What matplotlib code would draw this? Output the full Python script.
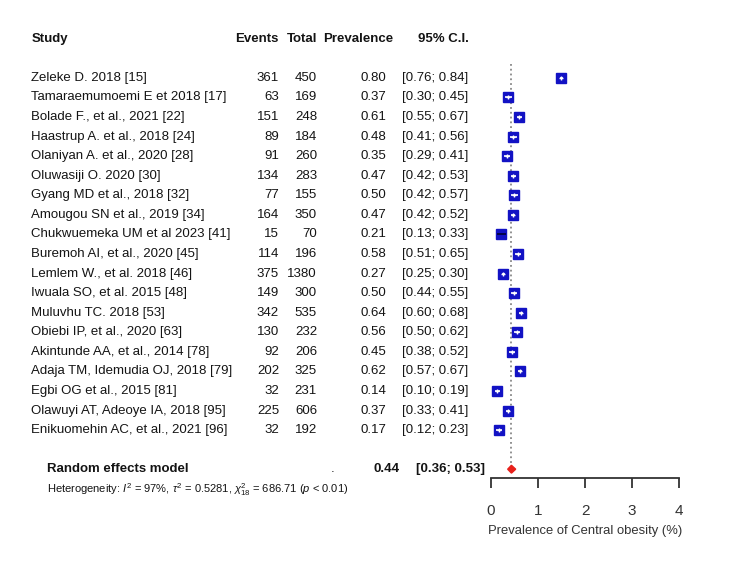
import numpy as np
import matplotlib
matplotlib.use('Agg')
import matplotlib.pyplot as plt
import matplotlib.transforms as mtransforms

# data
studies = ['Zeleke D. 2018 [15]', 'Tamaraemumoemi E et 2018 [17]', 'Bolade F., et al., 2021 [22]',
           'Haastrup A. et al., 2018 [24]', 'Olaniyan A. et al., 2020 [28]', 'Oluwasiji O. 2020 [30]',
           'Gyang MD et al., 2018 [32]', 'Amougou SN et al., 2019 [34]', 'Chukwuemeka UM et al 2023 [41]',
           'Buremoh AI, et al., 2020 [45]', 'Lemlem W., et al. 2018 [46]', 'Iwuala SO, et al. 2015 [48]',
           'Muluvhu TC. 2018 [53]', 'Obiebi IP, et al., 2020 [63]', 'Akintunde AA, et al., 2014 [78]',
           'Adaja TM, Idemudia OJ, 2018 [79]', 'Egbi OG et al., 2015 [81]', 'Olawuyi AT, Adeoye IA, 2018 [95]',
           'Enikuomehin AC, et al., 2021 [96]']
events = [361, 63, 151, 89, 91, 134, 77, 164, 15, 114, 375, 149, 342, 130, 92, 202, 32, 225, 32]
totals = [450, 169, 248, 184, 260, 283, 155, 350, 70, 196, 1380, 300, 535, 232, 206, 325, 231, 606, 192]
prev = [0.80, 0.37, 0.61, 0.48, 0.35, 0.47, 0.50, 0.47, 0.21, 0.58, 0.27, 0.50, 0.64, 0.56, 0.45,
        0.62, 0.14, 0.37, 0.17]
ci_lo = [0.76, 0.30, 0.55, 0.41, 0.29, 0.42, 0.42, 0.42, 0.13, 0.51, 0.25, 0.44, 0.60, 0.50, 0.38,
         0.57, 0.10, 0.33, 0.12]
ci_hi = [0.84, 0.45, 0.67, 0.56, 0.41, 0.53, 0.57, 0.52, 0.33, 0.65, 0.30, 0.55, 0.68, 0.62, 0.52,
         0.67, 0.19, 0.41, 0.23]
# square positions as drawn in the reference (Zeleke sits at ~1.5 there)
square_x = [1.50] + prev[1:]
pooled = 0.44
pooled_lo = 0.36
pooled_hi = 0.53
heterogeneity = r'Heterogeneity: $I^2$ = 97%, $\tau^2$ = 0.5281, $\chi^2_{18}$ = 686.71 ($p$ < 0.01)'

plt.rcParams['font.family'] = ['Liberation Sans', 'DejaVu Sans']
plt.rcParams['mathtext.fontset'] = 'custom'
plt.rcParams['mathtext.rm'] = 'Liberation Sans'
plt.rcParams['mathtext.it'] = 'Liberation Sans:italic'

W, H = 750, 578
fig = plt.figure(figsize=(W / 100, H / 100), dpi=100)
ax = fig.add_axes([490.7 / W, 1 - 478 / H, 188.6 / W, 448 / H])
n = len(studies)
ax.set_xlim(0, 4)
ax.set_ylim(20.45, -2.45)

txtc = '#141414'
fs = 9.5
tr = mtransforms.blended_transform_factory(fig.transFigure, ax.transData)

def px(x):
    return x / W

# header
hy = -2
ax.text(px(32), hy, 'Study', transform=tr, fontsize=fs, fontweight='bold', va='center', color=txtc)
ax.text(px(278), hy, 'Events', transform=tr, fontsize=fs, fontweight='bold', va='center', ha='right', color=txtc)
ax.text(px(317), hy, 'Total', transform=tr, fontsize=fs, fontweight='bold', va='center', ha='right', color=txtc)
ax.text(px(393), hy, 'Prevalence', transform=tr, fontsize=fs, fontweight='bold', va='center', ha='right', color=txtc)
ax.text(px(469), hy, '95% C.I.', transform=tr, fontsize=fs, fontweight='bold', va='center', ha='right', color=txtc)

sq_w = 0.2  # square width in data units (~10 px)
blue = '#1212c4'
for i in range(n):
    ax.text(px(31), i, studies[i], transform=tr, fontsize=fs, va='center', color=txtc)
    ax.text(px(279), i, str(events[i]), transform=tr, fontsize=fs, va='center', ha='right', color=txtc)
    ax.text(px(317), i, str(totals[i]), transform=tr, fontsize=fs, va='center', ha='right', color=txtc)
    ax.text(px(386), i, '%.2f' % prev[i], transform=tr, fontsize=fs, va='center', ha='right', color=txtc)
    ax.text(px(468), i, '[%.2f; %.2f]' % (ci_lo[i], ci_hi[i]), transform=tr, fontsize=fs,
            va='center', ha='right', color=txtc)
    ax.plot(square_x[i], i, marker='s', ms=7.5, color=blue, mec=blue, clip_on=False, zorder=3)
    shift = square_x[i] - prev[i]
    if ci_hi[i] - ci_lo[i] < sq_w:
        ax.plot([ci_lo[i] + shift, ci_hi[i] + shift], [i, i], color='white', lw=1.2, zorder=4,
                solid_capstyle='butt')
        ax.plot(square_x[i], i, marker='+', ms=3.5, mew=1.0, color='white', zorder=5)
    else:
        ax.plot([ci_lo[i] + shift, ci_hi[i] + shift], [i, i], color='#000033', lw=1.2, zorder=4,
                solid_capstyle='butt')

# pooled estimate
py = 20
ax.plot([pooled, pooled], [-0.7, py], color='#888888', ls=':', lw=1.3, zorder=1)
ax.fill([pooled_lo, pooled, pooled_hi, pooled], [py, py - 0.2, py, py + 0.2],
        color='#e8201a', zorder=3, clip_on=False)
ax.text(px(47), py, 'Random effects model', transform=tr, fontsize=fs, fontweight='bold', va='center', color=txtc)
ax.text(px(331), py, '.', transform=tr, fontsize=fs, va='center', color=txtc)
ax.text(px(400), py, '%.2f' % pooled, transform=tr, fontsize=fs, fontweight='bold', va='center',
        ha='right', color=txtc)
ax.text(px(416), py, '[%.2f; %.2f]' % (pooled_lo, pooled_hi), transform=tr, fontsize=fs,
        fontweight='bold', va='center', color=txtc)
ax.text(px(47), 21.05, heterogeneity, transform=tr, fontsize=8, va='center', color=txtc)

# axis
for s in ['top', 'right', 'left']:
    ax.spines[s].set_visible(False)
ax.spines['bottom'].set_color('#333333')
ax.spines['bottom'].set_linewidth(1.3)
ax.set_yticks([])
ax.set_xticks([0, 1, 2, 3, 4])
ax.tick_params(axis='x', direction='out', length=7, width=1.3, color='#333333',
               labelsize=11, labelcolor='#333333', pad=12)
ax.set_xlabel('Prevalence of Central obesity (%)', fontsize=9.4, color='#333333', labelpad=5)
ax.patch.set_visible(False)

fig.savefig('out.png', dpi=100)
